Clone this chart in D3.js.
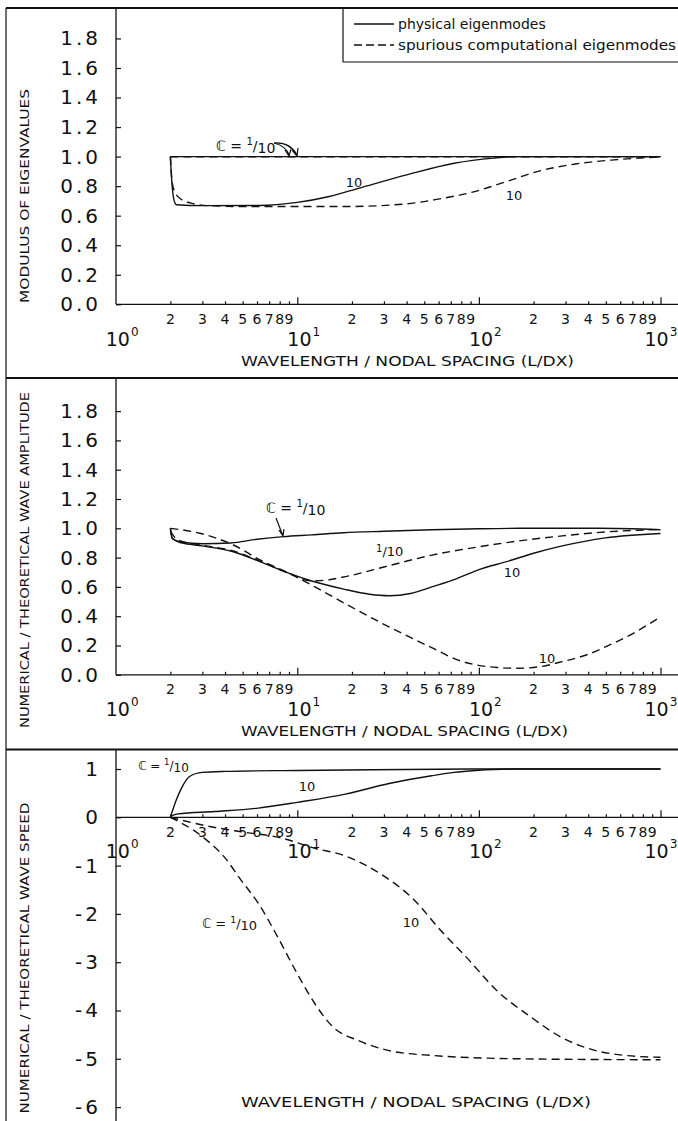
<!DOCTYPE html>
<html><head><meta charset="utf-8">
<script src="https://cdn.jsdelivr.net/npm/d3@7"></script>
<style>body{margin:0;background:#fff}svg{display:block}text{font-family:"DejaVu Sans",sans-serif;fill:#111}</style>
</head><body><svg id="c" width="678" height="1121"></svg>
<script>
// ---------- data ----------
const minorTicks = [2,3,4,5,6,7,8,9,20,30,40,50,60,70,80,90,200,300,400,500,600,700,800,900];
const majorTicks = [1,10,100,1000];
const majorExp = ["0","1","2","3"];
const yTicksAmp = [0,0.2,0.4,0.6,0.8,1.0,1.2,1.4,1.6,1.8];
const yTicksSpeed = [1,0,-1,-2,-3,-4,-5,-6];
const legendLabels = ["physical  eigenmodes","spurious computational eigenmodes"];

// Panel 1: modulus of eigenvalues
const eigPhysC01 = [[2,1.0],[1000,1.0]];
const eigSpurC01 = [[2,0.998],[1000,0.998]];
const eigPhysC10 = [[2,1.0],[2.04,0.82],[2.1,0.7],[2.16,0.674],[3,0.668],[6.1,0.669],[10,0.69],[15,0.73],[21.7,0.785],[40,0.876],[73,0.955],[120,0.99],[160,1.0],[1000,1.0]];
const eigSpurC10 = [[2,1.0],[2.04,0.84],[2.1,0.77],[2.3,0.71],[2.6,0.685],[3.2,0.668],[5,0.662],[18.4,0.662],[39.8,0.68],[58.5,0.71],[96,0.765],[141,0.83],[219,0.905],[340,0.95],[557,0.978],[1000,0.998]];

// Panel 2: numerical / theoretical wave amplitude
const ampPhysC01 = [[2,1.0],[2.05,0.93],[2.3,0.905],[3,0.895],[4.3,0.9],[6,0.925],[8.4,0.943],[12,0.955],[18,0.97],[30,0.98],[55,0.99],[100,0.997],[166,1.0],[450,1.0],[1000,0.99]];
const ampSpurC01 = [[2,0.98],[2.2,0.92],[3,0.885],[4.45,0.845],[6.24,0.775],[9.1,0.69],[11.9,0.642],[14,0.645],[18.4,0.67],[32,0.745],[55,0.817],[96,0.87],[166,0.914],[288,0.948],[497,0.975],[1000,0.992]];
const ampPhysC10 = [[2,1.0],[2.05,0.93],[2.3,0.9],[3,0.88],[4.45,0.84],[6.24,0.772],[9.1,0.69],[12,0.64],[18,0.585],[25,0.55],[32,0.54],[42,0.555],[55,0.6],[75,0.655],[96,0.71],[149,0.78],[200,0.83],[288,0.88],[497,0.935],[1000,0.965]];
const ampSpurC10 = [[2,1.0],[2.91,0.966],[4.45,0.886],[6.24,0.784],[9.1,0.69],[12.5,0.6],[18.4,0.485],[32,0.327],[55,0.185],[77,0.1],[96,0.068],[126,0.05],[166,0.045],[218,0.056],[288,0.09],[400,0.14],[497,0.19],[700,0.28],[1000,0.395]];

// Panel 3: numerical / theoretical wave speed
const spdPhysC01 = [[2,0],[2.15,0.35],[2.3,0.6],[2.54,0.84],[3,0.93],[4,0.95],[10,0.97],[40,0.99],[100,1.0],[1000,1.0]];
const spdPhysC10 = [[2,0.02],[2.2,0.07],[3.5,0.12],[6.1,0.19],[10,0.31],[18.4,0.48],[32,0.7],[55,0.86],[73,0.93],[96,0.97],[150,1.0],[1000,1.0]];
const spdSpurC01 = [[2,0],[3,-0.4],[3.96,-0.82],[4.9,-1.3],[6.1,-1.78],[7.6,-2.4],[10,-3.24],[12.5,-3.86],[15.7,-4.34],[21.6,-4.62],[32,-4.83],[55,-4.93],[166,-5.0],[1000,-5.02]];
const spdSpurC10 = [[2,0],[3,-0.16],[4.9,-0.3],[8,-0.42],[12.5,-0.64],[18.4,-0.8],[28.4,-1.16],[44,-1.71],[61.5,-2.34],[85,-2.89],[125,-3.58],[194,-4.14],[283,-4.55],[440,-4.83],[640,-4.93],[1000,-4.97]];

// ---------- drawing ----------
const svg = d3.select("#c");
const W = 678;
const x = d3.scaleLog().domain([1,1000]).range([115.7,660.5]);
const AXX = 116;

function frameLine(x1,y1,x2,y2,w){svg.append("line").attr("x1",x1).attr("y1",y1).attr("x2",x2).attr("y2",y2).attr("stroke","#111").attr("stroke-width",w);}
// outer frame
frameLine(6,8,6,1121,1.2);
frameLine(6,8,W,8,2);
frameLine(6,378,W,378,2.2);
frameLine(6,749.5,W,749.5,2.2);

function curve(y, data, dashed){
  const line = d3.line().x(d=>x(d[0])).y(d=>y(d[1])).curve(d3.curveMonotoneX);
  svg.append("path").attr("d",line(data)).attr("fill","none").attr("stroke","#111")
    .attr("stroke-width",1.4).attr("stroke-dasharray",dashed?"8,5":null);
}

function xAxis(yAxisPos, labelMinorY, labelMajorY){
  svg.append("line").attr("x1",AXX).attr("x2",W).attr("y1",yAxisPos).attr("y2",yAxisPos).attr("stroke","#111").attr("stroke-width",1.3);
  const gMin = svg.append("g").attr("transform",`translate(0,${yAxisPos})`)
    .call(d3.axisBottom(x).tickValues(minorTicks).tickSize(-3).tickFormat(""));
  const gMaj = svg.append("g").attr("transform",`translate(0,${yAxisPos})`)
    .call(d3.axisBottom(x).tickValues(majorTicks.slice(1)).tickSize(-7).tickFormat(""));
  [gMin,gMaj].forEach(g=>{g.select(".domain").remove(); g.selectAll("line").attr("stroke","#111").attr("stroke-width",1.2);});
  svg.append("g").selectAll("text").data(minorTicks).join("text")
    .attr("x",d=>x(d)).attr("y",labelMinorY).attr("text-anchor","middle")
    .attr("font-size",14).text(d=>String(d).charAt(0));
  const mj = svg.append("g").selectAll("text").data(majorTicks).join("text")
    .attr("x",(d,i)=>x(d)-(i===3?16:10)).attr("y",labelMajorY).attr("font-size",19);
  mj.append("tspan").text("10");
  mj.append("tspan").attr("font-size",12).attr("dy",-10).attr("dx",1).text((d,i)=>majorExp[i]);
}

function yAxis(y, ticks, top, bottom, fmt){
  svg.append("line").attr("x1",AXX).attr("x2",AXX).attr("y1",top).attr("y2",bottom).attr("stroke","#111").attr("stroke-width",1.3);
  const g = svg.append("g").attr("transform",`translate(${AXX},0)`)
    .call(d3.axisLeft(y).tickValues(ticks).tickSize(-5).tickPadding(15).tickFormat(fmt));
  g.select(".domain").remove();
  g.selectAll("line").attr("stroke","#111").attr("stroke-width",1.2);
  g.selectAll("text").attr("font-family","DejaVu Sans").attr("font-size",20).attr("fill","#111").style("letter-spacing","3px");
  return g;
}

function vTitle(txt, cx, cy, len){
  svg.append("text").attr("transform",`translate(${cx},${cy}) rotate(-90)`).attr("text-anchor","middle")
    .attr("font-size",13).attr("textLength",len).attr("lengthAdjust","spacingAndGlyphs").text(txt);
}
function hTitle(txt, x0, y0, len){
  svg.append("text").attr("x",x0).attr("y",y0).attr("font-size",14).attr("textLength",len)
    .attr("lengthAdjust","spacingAndGlyphs").text(txt);
}
function label(txt, x0, y0, fs){
  svg.append("text").attr("x",x0).attr("y",y0).attr("font-size",fs||13).attr("text-anchor","middle").text(txt);
}
function cLabel(x0, y0, fs){
  const t = svg.append("text").attr("x",x0).attr("y",y0).attr("font-size",fs);
  t.append("tspan").text("\u2102 = ");
  t.append("tspan").attr("font-size",fs*0.72).attr("dy",-fs*0.4).text("1");
  t.append("tspan").attr("dy",fs*0.4).text("/");
  t.append("tspan").attr("dy",fs*0.15).text("10");
}

// ---- Panel 1 ----
const y1 = d3.scaleLinear().domain([0,1]).range([304.3,156.6]);
yAxis(y1, yTicksAmp, 8, 304.3, d3.format(".1f"));
xAxis(304.3, 324, 346);
vTitle("MODULUS OF EIGENVALUES", 29, 196, 214);
hTitle("WAVELENGTH / NODAL SPACING (L/DX)", 241, 366, 333);
curve(y1, eigPhysC01, false);
curve(y1, eigSpurC01, true);
curve(y1, eigPhysC10, false);
curve(y1, eigSpurC10, true);
cLabel(216, 151, 14);
svg.append("path").attr("d","M274,143 Q290,142 297,155").attr("fill","none").attr("stroke","#111").attr("stroke-width",1.2);
svg.append("path").attr("d","M274,143 Q286,146 289,155").attr("fill","none").attr("stroke","#111").attr("stroke-width",1.2);
svg.append("path").attr("d","M292,150 L297,156 L298,148 M285,150 L289,156 L291,149").attr("fill","none").attr("stroke","#111").attr("stroke-width",1.2);
label("10", 354, 187, 13);
label("10", 514, 200, 13);
// legend
frameLine(343,8,343,62,1.2);
frameLine(343,62,W,62,1.2);
svg.append("line").attr("x1",354).attr("x2",394).attr("y1",24).attr("y2",24).attr("stroke","#111").attr("stroke-width",1.3);
svg.append("line").attr("x1",354).attr("x2",394).attr("y1",45).attr("y2",45).attr("stroke","#111").attr("stroke-width",1.3).attr("stroke-dasharray","8,4");
svg.append("text").attr("x",398).attr("y",29).attr("font-size",14).text(legendLabels[0]);
svg.append("text").attr("x",398).attr("y",50).attr("font-size",14).attr("textLength",278).attr("lengthAdjust","spacingAndGlyphs").text(legendLabels[1]);

// ---- Panel 2 ----
const y2 = d3.scaleLinear().domain([0,1]).range([674.8,528.3]);
yAxis(y2, yTicksAmp, 379, 674.8, d3.format(".1f"));
xAxis(674.8, 694, 716);
vTitle("NUMERICAL / THEORETICAL WAVE AMPLITUDE", 29, 560, 336);
hTitle("WAVELENGTH / NODAL SPACING (L/DX)", 241, 736, 327);
curve(y2, ampPhysC01, false);
curve(y2, ampSpurC01, true);
curve(y2, ampPhysC10, false);
curve(y2, ampSpurC10, true);
cLabel(266, 513, 14);
svg.append("path").attr("d","M276,518 L283,536 M279,530 L283,536 L284,529").attr("fill","none").attr("stroke","#111").attr("stroke-width",1.2);
const lab = svg.append("text").attr("x",376).attr("y",556).attr("font-size",13);
lab.append("tspan").attr("font-size",10).attr("dy",-4).text("1");
lab.append("tspan").attr("dy",4).text("/10");
label("10", 512, 577, 13);
label("10", 547, 663, 13);

// ---- Panel 3 ----
const y3 = d3.scaleLinear().domain([0,1]).range([817.3,769]);
yAxis(y3, yTicksSpeed, 750, 1121, d=>String(d));
xAxis(817.3, 837, 858);
vTitle("NUMERICAL / THEORETICAL   WAVE   SPEED", 29, 958, 311);
hTitle("WAVELENGTH / NODAL SPACING   (L/DX)", 241, 1107, 350);
curve(y3, spdPhysC01, false);
curve(y3, spdPhysC10, false);
curve(y3, spdSpurC01, true);
curve(y3, spdSpurC10, true);
cLabel(138, 770, 12);
cLabel(202, 928, 13);
label("10", 307, 791, 13);
label("10", 411, 927, 13);
</script></body></html>
